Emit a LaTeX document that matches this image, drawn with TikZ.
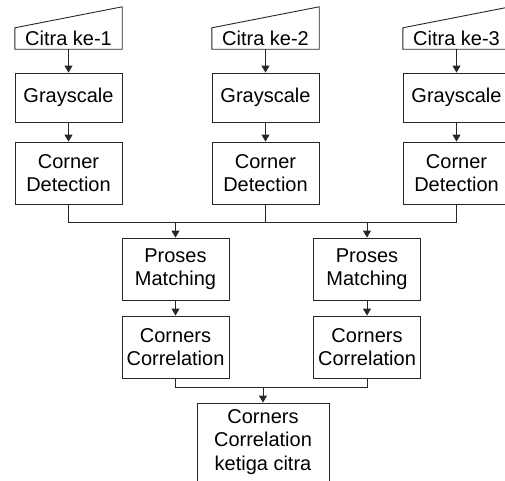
\documentclass[tikz,border=0pt]{standalone}
\usepackage{fontspec}
\setmainfont{Liberation Sans}
\usetikzlibrary{arrows.meta,calc}
\tikzset{
  ln/.style={line width=0.9pt, draw=black!85},
  box/.style={ln, draw, minimum width=107pt, inner sep=0pt, align=center,
    font=\fontsize{20}{23.5}\selectfont},
  inshape/.style={minimum width=107pt, minimum height=42pt, inner sep=0pt},
  txt/.style={inner sep=0pt, font=\fontsize{20}{23.5}\selectfont},
  arr/.style={ln, -{Triangle[length=7pt,width=8pt]}}
}
\begin{document}
\begin{tikzpicture}[x=1pt,y=-1pt]
\useasboundingbox (0,0) rectangle (505,480);
\clip (0,0) rectangle (505,480);
% inputs
\foreach \n/\cx in {1/68.5,2/265.5,3/456.5}{
  \node[inshape] (in\n) at (\cx,28) {};
  \node[txt] (in\n t) at (\cx,38.5) {Citra ke-\n};
  \draw[ln] ($(in\n.north west)+(0,21)$) -- (in\n.north east) -- (in\n.south east) -- (in\n.south west) -- cycle;
  \node[box, minimum height=49pt] (g\n) at (\cx,97.5) {Grayscale};
  \node[box, minimum height=62pt] (cd\n) at (\cx,173) {Corner\\Detection};
  \draw[arr] (in\n.south) -- (g\n.north);
  \draw[arr] (g\n.south) -- (cd\n.north);
}
\node[box, minimum height=62pt] (pm1) at (175.5,269) {Proses\\Matching};
\node[box, minimum height=62pt] (pm2) at (367,269) {Proses\\Matching};
\node[box, minimum height=62pt] (cc1) at (175.5,347) {Corners\\Correlation};
\node[box, minimum height=62pt] (cc2) at (367,347) {Corners\\Correlation};
\node[box, minimum width=132pt, minimum height=78pt] (fin) at (263,442) {Corners\\Correlation\\ketiga citra};
% joins
\coordinate (j1) at (68.5,222);
\coordinate (j3) at (456.5,222);
\draw[ln] (cd1.south) -- (j1) -- (j3) -- (cd3.south);
\draw[ln] (cd2.south) -- (cd2.south |- j1);
\draw[arr] (pm1.north |- j1) -- (pm1.north);
\draw[arr] (pm2.north |- j1) -- (pm2.north);
\draw[arr] (pm1.south) -- (cc1.north);
\draw[arr] (pm2.south) -- (cc2.north);
\coordinate (k1) at (175.5,387);
\draw[ln] (cc1.south) -- (k1) -- (cc2.south |- k1) -- (cc2.south);
\draw[arr] (fin.north |- k1) -- (fin.north);
\end{tikzpicture}
\end{document}
